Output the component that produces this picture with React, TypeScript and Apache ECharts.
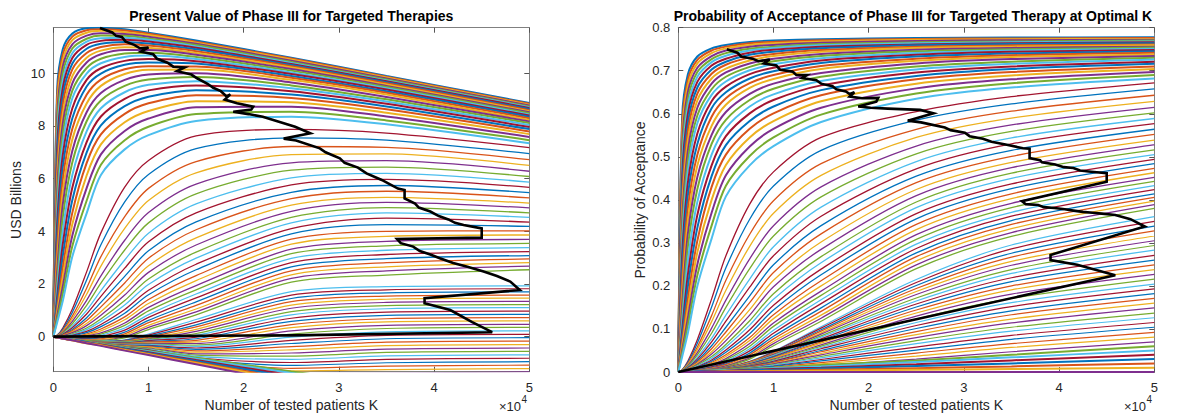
import { useEffect, useRef } from "react";
import * as echarts from "echarts";

// Sample positions of patients K (in units of 10^4) for every curve
const K_GRID = [0, 0.04, 0.1, 0.2, 0.35, 0.5, 0.75, 1, 1.5, 2.5, 3.5, 5];

// ---------- Left chart: present value (USD billions) ----------
const PV_BAND_A = [
  [0, 9.35, 10.92, 11.51, 11.71, 11.73, 11.67, 11.54, 11.24, 10.59, 9.9, 8.87],
  [0, 9.01, 10.71, 11.39, 11.63, 11.67, 11.62, 11.5, 11.2, 10.56, 9.87, 8.84],
  [0, 8.67, 10.5, 11.26, 11.54, 11.61, 11.56, 11.45, 11.16, 10.52, 9.84, 8.81],
  [0, 8.29, 10.26, 11.1, 11.43, 11.52, 11.49, 11.39, 11.12, 10.48, 9.8, 8.78],
  [0, 7.91, 10.01, 10.94, 11.31, 11.43, 11.42, 11.32, 11.07, 10.43, 9.76, 8.74],
  [0, 7.52, 9.73, 10.76, 11.2, 11.33, 11.35, 11.27, 11.02, 10.39, 9.73, 8.71],
  [0, 7.13, 9.45, 10.58, 11.08, 11.23, 11.27, 11.21, 10.97, 10.35, 9.7, 8.68],
  [0, 6.71, 9.14, 10.37, 10.93, 11.12, 11.19, 11.13, 10.91, 10.31, 9.66, 8.64],
  [0, 6.28, 8.82, 10.15, 10.77, 11.0, 11.1, 11.05, 10.84, 10.27, 9.62, 8.6],
  [0, 5.87, 8.46, 9.89, 10.59, 10.86, 10.99, 10.97, 10.77, 10.22, 9.57, 8.56],
  [0, 5.46, 8.1, 9.62, 10.41, 10.72, 10.88, 10.88, 10.7, 10.16, 9.52, 8.52],
  [0, 5.06, 7.72, 9.34, 10.2, 10.55, 10.75, 10.78, 10.62, 10.1, 9.48, 8.48],
  [0, 4.66, 7.34, 9.05, 9.99, 10.38, 10.62, 10.67, 10.54, 10.03, 9.43, 8.44],
  [0, 4.23, 6.9, 8.67, 9.75, 10.19, 10.47, 10.54, 10.46, 9.97, 9.38, 8.4],
  [0, 3.79, 6.45, 8.29, 9.5, 9.99, 10.32, 10.41, 10.37, 9.9, 9.32, 8.35],
  [0, 3.31, 5.98, 7.89, 9.18, 9.76, 10.15, 10.27, 10.26, 9.83, 9.26, 8.29],
  [0, 2.83, 5.5, 7.49, 8.85, 9.52, 9.97, 10.13, 10.14, 9.75, 9.19, 8.23],
  [0, 2.44, 5.02, 7.06, 8.52, 9.25, 9.75, 9.95, 10.0, 9.65, 9.1, 8.17],
  [0, 2.04, 4.54, 6.62, 8.18, 8.97, 9.52, 9.76, 9.86, 9.54, 9.01, 8.11],
  [0, 1.76, 4.03, 6.14, 7.79, 8.67, 9.28, 9.56, 9.7, 9.43, 8.93, 8.04],
  [0, 1.48, 3.51, 5.66, 7.39, 8.36, 9.03, 9.35, 9.54, 9.32, 8.84, 7.96],
  [0, 1.27, 3.07, 5.19, 6.99, 8.02, 8.75, 9.11, 9.36, 9.19, 8.74, 7.88],
  [0, 1.05, 2.63, 4.71, 6.59, 7.68, 8.46, 8.86, 9.17, 9.06, 8.63, 7.79],
  [0, 0.91, 2.28, 4.28, 6.12, 7.3, 8.14, 8.57, 8.94, 8.9, 8.5, 7.69],
  [0, 0.77, 1.92, 3.84, 5.64, 6.92, 7.81, 8.28, 8.71, 8.73, 8.36, 7.58],
  [0, 0.65, 1.64, 3.44, 5.16, 6.53, 7.46, 7.97, 8.45, 8.54, 8.21, 7.46],
  [0, 0.53, 1.36, 3.04, 4.68, 6.14, 7.11, 7.65, 8.19, 8.35, 8.06, 7.34],
];
const PV_BAND_B = [
  [0, 0.05, 0.33, 1.05, 2.46, 3.94, 5.68, 6.69, 7.62, 7.87, 7.73, 7.18],
  [0, 0.05, 0.28, 0.92, 2.15, 3.49, 5.12, 6.16, 7.14, 7.55, 7.46, 6.95],
  [0, 0.04, 0.23, 0.78, 1.84, 3.04, 4.56, 5.63, 6.65, 7.22, 7.19, 6.72],
  [0, 0.03, 0.2, 0.68, 1.61, 2.68, 4.11, 5.17, 6.22, 6.91, 6.94, 6.5],
  [0, 0.02, 0.17, 0.58, 1.38, 2.31, 3.66, 4.71, 5.79, 6.6, 6.68, 6.28],
  [0, 0.01, 0.14, 0.49, 1.19, 2.03, 3.29, 4.32, 5.42, 6.32, 6.44, 6.08],
  [0, 0.0, 0.1, 0.4, 1.0, 1.75, 2.91, 3.93, 5.04, 6.03, 6.2, 5.87],
  [0, 0.0, 0.09, 0.34, 0.86, 1.53, 2.6, 3.6, 4.7, 5.76, 5.97, 5.67],
  [0, 0.0, 0.07, 0.27, 0.72, 1.3, 2.29, 3.26, 4.36, 5.48, 5.74, 5.47],
  [0, -0.01, 0.06, 0.23, 0.61, 1.13, 2.04, 2.98, 4.06, 5.24, 5.52, 5.27],
  [0, -0.01, 0.04, 0.18, 0.5, 0.95, 1.78, 2.69, 3.75, 4.99, 5.29, 5.07],
  [0, -0.01, 0.03, 0.15, 0.42, 0.81, 1.58, 2.44, 3.48, 4.76, 5.1, 4.89],
  [0, -0.01, 0.01, 0.11, 0.33, 0.67, 1.37, 2.19, 3.21, 4.53, 4.9, 4.7],
  [0, -0.01, 0.0, 0.08, 0.27, 0.57, 1.2, 1.98, 2.98, 4.32, 4.7, 4.53],
  [0, -0.01, -0.01, 0.05, 0.2, 0.46, 1.03, 1.76, 2.75, 4.1, 4.5, 4.35],
  [0, -0.02, -0.02, 0.03, 0.15, 0.38, 0.89, 1.59, 2.54, 3.9, 4.25, 4.19],
  [0, -0.03, -0.02, 0.0, 0.1, 0.29, 0.75, 1.41, 2.32, 3.7, 4.0, 4.02],
  [0, -0.03, -0.03, -0.02, 0.07, 0.22, 0.64, 1.26, 2.13, 3.51, 3.81, 3.86],
  [0, -0.03, -0.04, -0.03, 0.03, 0.14, 0.52, 1.11, 1.94, 3.32, 3.62, 3.69],
  [0, -0.03, -0.04, -0.04, 0.0, 0.1, 0.43, 0.98, 1.78, 3.15, 3.45, 3.54],
  [0, -0.03, -0.04, -0.05, -0.04, 0.05, 0.33, 0.84, 1.62, 2.97, 3.28, 3.38],
  [0, -0.03, -0.05, -0.07, -0.07, 0.0, 0.25, 0.73, 1.47, 2.81, 3.12, 3.23],
  [0, -0.03, -0.05, -0.08, -0.09, -0.05, 0.17, 0.62, 1.32, 2.65, 2.96, 3.08],
  [0, -0.03, -0.05, -0.09, -0.11, -0.08, 0.11, 0.53, 1.19, 2.5, 2.81, 2.95],
  [0, -0.03, -0.05, -0.09, -0.12, -0.11, 0.05, 0.43, 1.05, 2.35, 2.65, 2.81],
  [0, -0.03, -0.05, -0.09, -0.14, -0.14, 0.0, 0.35, 0.94, 2.21, 2.5, 2.68],
  [0, -0.03, -0.05, -0.09, -0.15, -0.16, -0.05, 0.27, 0.83, 2.07, 2.34, 2.54],
];
const PV_BAND_C = [
  [0, -0.03, -0.06, -0.12, -0.19, -0.18, -0.12, 0.1, 0.65, 1.71, 1.9, 1.93],
  [0, -0.03, -0.06, -0.12, -0.19, -0.19, -0.14, 0.06, 0.55, 1.58, 1.78, 1.82],
  [0, -0.03, -0.06, -0.12, -0.19, -0.19, -0.15, 0.02, 0.45, 1.45, 1.66, 1.7],
  [0, -0.03, -0.06, -0.12, -0.19, -0.2, -0.17, -0.02, 0.37, 1.33, 1.54, 1.58],
  [0, -0.03, -0.06, -0.12, -0.19, -0.2, -0.18, -0.05, 0.28, 1.2, 1.42, 1.46],
  [0, -0.03, -0.06, -0.12, -0.19, -0.21, -0.19, -0.08, 0.2, 1.08, 1.3, 1.34],
  [0, -0.03, -0.06, -0.12, -0.19, -0.21, -0.2, -0.1, 0.12, 0.95, 1.18, 1.22],
  [0, -0.03, -0.06, -0.12, -0.19, -0.22, -0.22, -0.13, 0.05, 0.83, 1.06, 1.1],
  [0, -0.03, -0.06, -0.12, -0.19, -0.22, -0.23, -0.15, -0.02, 0.7, 0.93, 0.97],
  [0, -0.03, -0.06, -0.12, -0.19, -0.23, -0.24, -0.18, -0.08, 0.58, 0.81, 0.85],
  [0, -0.03, -0.06, -0.12, -0.19, -0.23, -0.25, -0.2, -0.14, 0.46, 0.68, 0.72],
  [0, -0.03, -0.06, -0.12, -0.19, -0.24, -0.27, -0.23, -0.2, 0.34, 0.56, 0.6],
  [0, -0.03, -0.06, -0.12, -0.19, -0.24, -0.28, -0.25, -0.26, 0.22, 0.43, 0.47],
  [0, -0.03, -0.06, -0.12, -0.2, -0.25, -0.29, -0.28, -0.32, 0.1, 0.31, 0.35],
  [0, -0.03, -0.06, -0.12, -0.2, -0.25, -0.3, -0.3, -0.37, -0.02, 0.18, 0.22],
  [0, -0.03, -0.06, -0.12, -0.2, -0.26, -0.32, -0.33, -0.43, -0.14, 0.05, 0.09],
  [0, -0.03, -0.06, -0.12, -0.2, -0.26, -0.33, -0.35, -0.48, -0.26, -0.08, -0.04],
  [0, -0.03, -0.06, -0.12, -0.2, -0.27, -0.34, -0.38, -0.54, -0.38, -0.21, -0.17],
  [0, -0.03, -0.06, -0.12, -0.2, -0.27, -0.35, -0.4, -0.59, -0.5, -0.34, -0.3],
  [0, -0.03, -0.06, -0.12, -0.2, -0.28, -0.37, -0.43, -0.65, -0.62, -0.47, -0.43],
  [0, -0.03, -0.06, -0.12, -0.2, -0.28, -0.38, -0.45, -0.7, -0.74, -0.6, -0.56],
  [0, -0.03, -0.06, -0.12, -0.21, -0.28, -0.39, -0.48, -0.75, -0.86, -0.73, -0.69],
  [0, -0.03, -0.06, -0.12, -0.21, -0.28, -0.4, -0.5, -0.8, -0.98, -0.86, -0.82],
  [0, -0.03, -0.06, -0.12, -0.21, -0.29, -0.41, -0.53, -0.85, -1.09, -0.99, -0.95],
  [0, -0.03, -0.06, -0.12, -0.21, -0.29, -0.42, -0.55, -0.89, -1.2, -1.12, -1.08],
  [0, -0.03, -0.06, -0.12, -0.21, -0.3, -0.44, -0.58, -0.93, -1.3, -1.25, -1.21],
  [0, -0.03, -0.06, -0.12, -0.21, -0.3, -0.45, -0.6, -0.97, -1.4, -1.38, -1.34],
];
const PV_BAND_D = [
  [0, -0.03, -0.05, -0.11, -0.2, -0.27, -0.41, -0.54, -0.8, -1.32, -1.81, -2.55],
  [0, -0.03, -0.07, -0.11, -0.2, -0.29, -0.43, -0.56, -0.84, -1.38, -1.91, -2.7],
  [0, -0.03, -0.07, -0.12, -0.21, -0.3, -0.45, -0.59, -0.89, -1.46, -2.02, -2.86],
  [0, -0.03, -0.07, -0.12, -0.21, -0.32, -0.46, -0.62, -0.92, -1.53, -2.13, -3.02],
  [0, -0.03, -0.07, -0.14, -0.23, -0.32, -0.49, -0.65, -0.97, -1.61, -2.24, -3.18],
  [0, -0.03, -0.07, -0.14, -0.25, -0.33, -0.51, -0.67, -1.0, -1.67, -2.34, -3.34],
  [0, -0.03, -0.07, -0.14, -0.25, -0.35, -0.53, -0.7, -1.05, -1.75, -2.45, -3.5],
];
// Optimal-K path on the left chart
const PV_OPT_K = [0.49, 0.62, 0.66, 0.72, 0.76, 0.85, 0.91, 1.0, 0.92, 1.05, 1.09, 1.2, 1.26, 1.38, 1.3, 1.45, 1.51, 1.62, 1.68, 1.76, 1.82, 1.86, 1.8, 1.93, 2.1, 2.08, 1.89, 2.05, 2.2, 2.54, 2.7, 2.42, 2.55, 2.8, 2.86, 3.01, 3.06, 3.2, 3.29, 3.45, 3.62, 3.69, 3.69, 3.8, 3.84, 3.96, 4.05, 4.15, 4.22, 4.31, 4.5, 4.5, 3.61, 3.65, 3.78, 3.85, 3.96, 4.06, 4.2, 4.35, 4.52, 4.66, 4.8, 4.9, 3.9, 3.9, 4.17, 4.4, 4.61, 2.5, 0];
const PV_OPT_VAL = [11.72, 11.55, 11.42, 11.38, 11.2, 11.08, 10.95, 10.98, 10.82, 10.72, 10.55, 10.4, 10.25, 10.22, 10.08, 9.95, 9.81, 9.6, 9.45, 9.32, 9.12, 9.2, 9.0, 8.86, 8.73, 8.62, 8.54, 8.45, 8.35, 7.97, 7.72, 7.52, 7.45, 7.15, 7.0, 6.77, 6.6, 6.42, 6.2, 5.95, 5.62, 5.57, 5.25, 5.05, 4.9, 4.75, 4.58, 4.45, 4.32, 4.24, 4.11, 3.76, 3.71, 3.55, 3.42, 3.25, 3.12, 2.98, 2.8, 2.65, 2.47, 2.3, 2.09, 1.77, 1.46, 1.27, 1.01, 0.55, 0.17, 0.05, 0];

// ---------- Right chart: probability of acceptance ----------
const PA_BAND_A = [
  [0, 0.59, 0.691, 0.733, 0.752, 0.76, 0.767, 0.77, 0.773, 0.776, 0.777, 0.778],
  [0, 0.569, 0.678, 0.725, 0.747, 0.756, 0.764, 0.767, 0.771, 0.774, 0.775, 0.776],
  [0, 0.547, 0.665, 0.717, 0.741, 0.752, 0.76, 0.764, 0.768, 0.772, 0.773, 0.774],
  [0, 0.523, 0.65, 0.707, 0.734, 0.747, 0.756, 0.76, 0.765, 0.769, 0.771, 0.772],
  [0, 0.499, 0.634, 0.697, 0.727, 0.741, 0.751, 0.756, 0.762, 0.766, 0.768, 0.77],
  [0, 0.475, 0.617, 0.686, 0.72, 0.735, 0.747, 0.753, 0.759, 0.764, 0.766, 0.768],
  [0, 0.45, 0.599, 0.674, 0.712, 0.728, 0.742, 0.749, 0.756, 0.761, 0.764, 0.766],
  [0, 0.424, 0.579, 0.661, 0.703, 0.721, 0.737, 0.744, 0.752, 0.759, 0.762, 0.764],
  [0, 0.397, 0.559, 0.647, 0.693, 0.714, 0.731, 0.739, 0.748, 0.756, 0.759, 0.761],
  [0, 0.371, 0.537, 0.631, 0.682, 0.705, 0.724, 0.734, 0.744, 0.753, 0.756, 0.759],
  [0, 0.345, 0.514, 0.614, 0.67, 0.696, 0.717, 0.728, 0.739, 0.749, 0.753, 0.756],
  [0, 0.32, 0.49, 0.596, 0.657, 0.686, 0.709, 0.722, 0.734, 0.745, 0.75, 0.754],
  [0, 0.295, 0.466, 0.578, 0.644, 0.675, 0.701, 0.715, 0.729, 0.741, 0.747, 0.751],
  [0, 0.268, 0.438, 0.554, 0.629, 0.663, 0.692, 0.707, 0.724, 0.737, 0.744, 0.748],
  [0, 0.24, 0.41, 0.53, 0.613, 0.65, 0.682, 0.699, 0.718, 0.733, 0.74, 0.745],
  [0, 0.21, 0.38, 0.505, 0.593, 0.636, 0.671, 0.69, 0.711, 0.728, 0.736, 0.742],
  [0, 0.18, 0.35, 0.48, 0.572, 0.621, 0.66, 0.681, 0.704, 0.723, 0.732, 0.738],
  [0, 0.155, 0.32, 0.453, 0.551, 0.604, 0.646, 0.67, 0.695, 0.717, 0.727, 0.734],
  [0, 0.13, 0.29, 0.425, 0.53, 0.586, 0.632, 0.658, 0.686, 0.71, 0.721, 0.73],
  [0, 0.113, 0.258, 0.395, 0.505, 0.567, 0.617, 0.645, 0.676, 0.703, 0.716, 0.726],
  [0, 0.095, 0.225, 0.365, 0.48, 0.548, 0.601, 0.632, 0.666, 0.696, 0.71, 0.721],
  [0, 0.082, 0.198, 0.335, 0.455, 0.527, 0.583, 0.617, 0.655, 0.688, 0.704, 0.716],
  [0, 0.068, 0.17, 0.305, 0.43, 0.505, 0.565, 0.601, 0.643, 0.68, 0.697, 0.71],
  [0, 0.059, 0.148, 0.278, 0.4, 0.481, 0.545, 0.583, 0.629, 0.67, 0.689, 0.704],
  [0, 0.05, 0.125, 0.25, 0.37, 0.457, 0.524, 0.565, 0.614, 0.659, 0.68, 0.697],
  [0, 0.043, 0.108, 0.225, 0.34, 0.433, 0.502, 0.545, 0.598, 0.647, 0.671, 0.69],
  [0, 0.035, 0.09, 0.2, 0.31, 0.408, 0.48, 0.525, 0.581, 0.635, 0.661, 0.682],
];
const PA_BAND_B = [
  [0, 0.005, 0.025, 0.075, 0.17, 0.27, 0.39, 0.465, 0.545, 0.605, 0.64, 0.672],
  [0, 0.005, 0.022, 0.067, 0.151, 0.242, 0.355, 0.432, 0.515, 0.585, 0.623, 0.658],
  [0, 0.004, 0.019, 0.058, 0.131, 0.213, 0.32, 0.398, 0.484, 0.564, 0.606, 0.643],
  [0, 0.004, 0.017, 0.052, 0.117, 0.19, 0.292, 0.369, 0.457, 0.545, 0.59, 0.629],
  [0, 0.003, 0.015, 0.045, 0.102, 0.167, 0.263, 0.34, 0.43, 0.525, 0.574, 0.615],
  [0, 0.003, 0.013, 0.04, 0.09, 0.15, 0.24, 0.316, 0.407, 0.507, 0.559, 0.602],
  [0, 0.002, 0.011, 0.034, 0.078, 0.132, 0.216, 0.291, 0.383, 0.489, 0.544, 0.589],
  [0, 0.002, 0.01, 0.03, 0.07, 0.118, 0.197, 0.27, 0.362, 0.472, 0.53, 0.577],
  [0, 0.002, 0.009, 0.026, 0.061, 0.104, 0.177, 0.249, 0.34, 0.455, 0.515, 0.564],
  [0, 0.002, 0.008, 0.023, 0.054, 0.093, 0.161, 0.231, 0.321, 0.44, 0.501, 0.552],
  [0, 0.001, 0.007, 0.02, 0.047, 0.082, 0.145, 0.213, 0.302, 0.424, 0.487, 0.539],
  [0, 0.001, 0.006, 0.018, 0.042, 0.073, 0.132, 0.198, 0.285, 0.41, 0.475, 0.528],
  [0, 0.001, 0.005, 0.016, 0.036, 0.064, 0.119, 0.182, 0.268, 0.395, 0.462, 0.516],
  [0, 0.001, 0.005, 0.014, 0.032, 0.058, 0.109, 0.169, 0.254, 0.382, 0.45, 0.505],
  [0, 0.001, 0.004, 0.012, 0.028, 0.051, 0.098, 0.155, 0.239, 0.368, 0.437, 0.494],
  [0, 0.001, 0.004, 0.011, 0.025, 0.046, 0.089, 0.144, 0.226, 0.356, 0.426, 0.484],
  [0, 0, 0.003, 0.009, 0.022, 0.04, 0.08, 0.133, 0.212, 0.343, 0.414, 0.473],
  [0, 0, 0.003, 0.008, 0.02, 0.036, 0.073, 0.124, 0.2, 0.331, 0.403, 0.463],
  [0, 0, 0.002, 0.007, 0.017, 0.031, 0.066, 0.114, 0.188, 0.319, 0.392, 0.452],
  [0, 0, 0.002, 0.007, 0.015, 0.028, 0.06, 0.106, 0.178, 0.308, 0.382, 0.443],
  [0, 0, 0.002, 0.006, 0.013, 0.025, 0.054, 0.097, 0.168, 0.297, 0.371, 0.433],
  [0, 0, 0.002, 0.005, 0.012, 0.022, 0.049, 0.09, 0.159, 0.287, 0.362, 0.424],
  [0, 0, 0.001, 0.004, 0.01, 0.019, 0.044, 0.083, 0.149, 0.277, 0.352, 0.414],
  [0, 0, 0.001, 0.004, 0.009, 0.017, 0.04, 0.077, 0.141, 0.268, 0.343, 0.406],
  [0, 0, 0.001, 0.003, 0.008, 0.015, 0.036, 0.071, 0.132, 0.258, 0.333, 0.397],
  [0, 0, 0.001, 0.003, 0.007, 0.014, 0.033, 0.066, 0.125, 0.249, 0.324, 0.389],
  [0, 0, 0.001, 0.003, 0.006, 0.012, 0.03, 0.061, 0.118, 0.24, 0.315, 0.38],
];
const PA_BAND_C = [
  [0, 0, 0.001, 0.002, 0.005, 0.01, 0.025, 0.048, 0.105, 0.215, 0.295, 0.361],
  [0, 0, 0.001, 0.002, 0.005, 0.01, 0.024, 0.047, 0.102, 0.208, 0.286, 0.35],
  [0, 0, 0.001, 0.002, 0.005, 0.009, 0.023, 0.045, 0.098, 0.201, 0.276, 0.339],
  [0, 0, 0.001, 0.002, 0.005, 0.009, 0.023, 0.044, 0.095, 0.194, 0.267, 0.328],
  [0, 0, 0.001, 0.002, 0.005, 0.009, 0.022, 0.042, 0.091, 0.187, 0.257, 0.316],
  [0, 0, 0.001, 0.002, 0.005, 0.009, 0.021, 0.041, 0.088, 0.18, 0.248, 0.305],
  [0, 0, 0.001, 0.002, 0.004, 0.008, 0.02, 0.039, 0.084, 0.172, 0.238, 0.294],
  [0, 0, 0.001, 0.002, 0.004, 0.008, 0.02, 0.038, 0.081, 0.165, 0.229, 0.283],
  [0, 0, 0.001, 0.002, 0.004, 0.008, 0.019, 0.036, 0.077, 0.158, 0.219, 0.271],
  [0, 0, 0.001, 0.002, 0.004, 0.008, 0.018, 0.035, 0.074, 0.151, 0.21, 0.26],
  [0, 0, 0.001, 0.002, 0.004, 0.007, 0.017, 0.033, 0.07, 0.144, 0.2, 0.249],
  [0, 0, 0.001, 0.002, 0.004, 0.007, 0.017, 0.032, 0.067, 0.137, 0.191, 0.238],
  [0, 0, 0.001, 0.001, 0.004, 0.007, 0.016, 0.03, 0.063, 0.13, 0.181, 0.227],
  [0, 0, 0.001, 0.001, 0.004, 0.007, 0.015, 0.028, 0.06, 0.123, 0.171, 0.216],
  [0, 0, 0, 0.001, 0.003, 0.006, 0.014, 0.026, 0.057, 0.115, 0.161, 0.204],
  [0, 0, 0, 0.001, 0.003, 0.006, 0.014, 0.025, 0.054, 0.108, 0.152, 0.193],
  [0, 0, 0, 0.001, 0.003, 0.006, 0.013, 0.023, 0.05, 0.101, 0.142, 0.182],
  [0, 0, 0, 0.001, 0.003, 0.006, 0.012, 0.022, 0.047, 0.094, 0.133, 0.171],
  [0, 0, 0, 0.001, 0.003, 0.005, 0.011, 0.02, 0.043, 0.087, 0.123, 0.16],
  [0, 0, 0, 0.001, 0.003, 0.005, 0.011, 0.019, 0.04, 0.08, 0.114, 0.149],
  [0, 0, 0, 0.001, 0.003, 0.005, 0.01, 0.017, 0.036, 0.073, 0.104, 0.137],
  [0, 0, 0, 0.001, 0.003, 0.005, 0.009, 0.016, 0.033, 0.066, 0.095, 0.126],
  [0, 0, 0, 0.001, 0.002, 0.004, 0.008, 0.014, 0.029, 0.058, 0.085, 0.115],
  [0, 0, 0, 0.001, 0.002, 0.004, 0.008, 0.013, 0.026, 0.051, 0.076, 0.104],
  [0, 0, 0, 0.001, 0.002, 0.004, 0.007, 0.011, 0.022, 0.044, 0.066, 0.092],
  [0, 0, 0, 0.001, 0.002, 0.004, 0.006, 0.01, 0.019, 0.037, 0.057, 0.081],
  [0, 0, 0, 0.001, 0.002, 0.003, 0.005, 0.008, 0.015, 0.03, 0.047, 0.07],
];
const PA_BAND_D = [
  [0, 0, 0.001, 0.002, 0.003, 0.005, 0.007, 0.01, 0.016, 0.027, 0.04, 0.06],
  [0, 0, 0, 0.002, 0.003, 0.004, 0.006, 0.009, 0.013, 0.023, 0.034, 0.05],
  [0, 0, 0, 0.001, 0.002, 0.003, 0.005, 0.007, 0.01, 0.018, 0.027, 0.04],
  [0, 0, 0, 0.001, 0.002, 0.002, 0.004, 0.005, 0.008, 0.014, 0.02, 0.03],
  [0, 0, 0, 0, 0.001, 0.002, 0.002, 0.003, 0.005, 0.009, 0.013, 0.02],
  [0, 0, 0, 0, 0, 0.001, 0.001, 0.002, 0.003, 0.005, 0.007, 0.01],
  [0, 0, 0, 0, 0, 0, 0, 0, 0, 0, 0, 0],
];
// Optimal-K path on the right chart
const PA_OPT_K = [0.51, 0.62, 0.66, 0.78, 0.84, 0.96, 0.9, 1.03, 1.07, 1.2, 1.24, 1.35, 1.3, 1.45, 1.5, 1.62, 1.66, 1.76, 1.8, 1.85, 1.8, 1.93, 2.1, 2.08, 1.89, 2.02, 2.2, 2.54, 2.68, 2.41, 2.55, 2.8, 2.86, 3.01, 3.06, 3.2, 3.29, 3.45, 3.62, 3.69, 3.69, 3.8, 3.82, 3.96, 4.05, 4.15, 4.22, 4.31, 4.5, 4.5, 3.61, 3.65, 3.78, 3.84, 3.95, 4.06, 4.15, 4.25, 4.35, 4.45, 4.59, 4.75, 4.9, 3.91, 3.91, 4.19, 4.59, 0];
const PA_OPT_VAL = [0.75, 0.742, 0.733, 0.728, 0.722, 0.726, 0.717, 0.712, 0.702, 0.698, 0.69, 0.69, 0.683, 0.678, 0.67, 0.664, 0.657, 0.652, 0.646, 0.65, 0.64, 0.636, 0.637, 0.628, 0.617, 0.614, 0.612, 0.609, 0.601, 0.584, 0.58, 0.568, 0.562, 0.556, 0.548, 0.542, 0.535, 0.528, 0.52, 0.519, 0.497, 0.492, 0.487, 0.482, 0.476, 0.474, 0.468, 0.466, 0.462, 0.442, 0.397, 0.39, 0.388, 0.383, 0.381, 0.378, 0.375, 0.372, 0.37, 0.368, 0.365, 0.355, 0.338, 0.272, 0.26, 0.249, 0.225, 0];

const PV_TICKS = [0, 2, 4, 6, 8, 10];
const COLORS = ["#0072BD", "#D95319", "#EDB120", "#7E2F8E", "#77AC30", "#4DBEEE", "#A2142F"];
const FONT = '"Liberation Sans", Arial, Helvetica, sans-serif';

type Band = { rows: number[][]; width: number };

function curveSeries(bands: Band[], axisIndex: number) {
  const out: any[] = [];
  let idx = 0;
  bands.forEach((band) => {
    band.rows.forEach((row) => {
      out.push({
        type: "line",
        xAxisIndex: axisIndex,
        yAxisIndex: axisIndex,
        data: row.map((v, k) => [K_GRID[k], v]),
        showSymbol: false,
        symbol: "none",
        smooth: 0.3,
        silent: true,
        lineStyle: { width: band.width, color: COLORS[idx % COLORS.length] },
        z: 2,
      });
      idx++;
    });
  });
  return out;
}

function optSeries(ks: number[], vals: number[], axisIndex: number) {
  return {
    type: "line",
    xAxisIndex: axisIndex,
    yAxisIndex: axisIndex,
    data: ks.map((k, i) => [k, vals[i]]),
    showSymbol: false,
    symbol: "none",
    silent: true,
    lineStyle: { width: 2.6, color: "#000000", join: "miter" },
    z: 5,
  };
}

const axisLineStyle = { color: "#808080", width: 1 };

function xAxes(grid: number) {
  const base = {
    gridIndex: grid,
    type: "value",
    min: 0,
    max: 5,
    interval: 1,
    splitLine: { show: false },
    axisLine: { show: true, onZero: false, lineStyle: axisLineStyle },
    axisTick: { show: true, inside: true, length: 5, lineStyle: { color: "#555" } },
  };
  return [
    { ...base, position: "bottom", axisLabel: { margin: 9, fontSize: 13, color: "#262626", fontFamily: FONT } },
    { ...base, position: "top", axisLabel: { show: false } },
  ];
}

export default function App() {
  const ref = useRef<HTMLDivElement>(null);
  useEffect(() => {
    if (!ref.current) return;
    const chart = echarts.init(ref.current, undefined, { renderer: "svg" });
    const yLeftBase = {
      gridIndex: 0,
      type: "value",
      min: -1.33,
      max: 11.73,
      splitLine: { show: false },
      axisLine: { show: true, onZero: false, lineStyle: axisLineStyle },
    };
    const yRightBase = {
      gridIndex: 1,
      type: "value",
      min: 0,
      max: 0.8,
      interval: 0.1,
      splitLine: { show: false },
      axisLine: { show: true, onZero: false, lineStyle: axisLineStyle },
      axisTick: { show: true, inside: true, length: 5, lineStyle: { color: "#555" } },
    };
    const option: any = {
      animation: false,
      backgroundColor: "#ffffff",
      grid: [
        { left: 53.3, top: 27.7, width: 476, height: 344 },
        { left: 678.3, top: 27.7, width: 476, height: 344.3 },
      ],
      xAxis: [...xAxes(0), ...xAxes(1)],
      yAxis: [
        {
          ...yLeftBase,
          position: "left",
          axisTick: { show: true, inside: true, length: 5, customValues: PV_TICKS, lineStyle: { color: "#555" } },
          axisLabel: { customValues: PV_TICKS, margin: 8, fontSize: 13, color: "#262626", fontFamily: FONT },
        },
        {
          ...yLeftBase,
          position: "right",
          axisTick: { show: true, inside: true, length: 5, customValues: PV_TICKS, lineStyle: { color: "#555" } },
          axisLabel: { show: false },
        },
        {
          ...yRightBase,
          position: "left",
          axisLabel: {
            margin: 8,
            fontSize: 13,
            color: "#262626",
            fontFamily: FONT,
            formatter: (v: number) => String(+v.toFixed(1)),
          },
        },
        { ...yRightBase, position: "right", axisLabel: { show: false } },
      ],
      graphic: [
        {
          type: "text",
          x: 291.3,
          y: 16,
          style: { text: "Present Value of Phase III for Targeted Therapies", textAlign: "center", textVerticalAlign: "middle", font: `bold 14px ${FONT}`, fill: "#000" },
        },
        {
          type: "text",
          x: 913,
          y: 16,
          style: { text: "Probability of Acceptance of Phase III for Targeted Therapy at Optimal K", textAlign: "center", textVerticalAlign: "middle", font: `bold 14px ${FONT}`, fill: "#000" },
        },
        {
          type: "text",
          x: 291.3,
          y: 405,
          style: { text: "Number of tested patients K", textAlign: "center", textVerticalAlign: "middle", font: `14px ${FONT}`, fill: "#262626" },
        },
        {
          type: "text",
          x: 916.3,
          y: 405,
          style: { text: "Number of tested patients K", textAlign: "center", textVerticalAlign: "middle", font: `14px ${FONT}`, fill: "#262626" },
        },
        {
          type: "text",
          x: 16,
          y: 200,
          rotation: Math.PI / 2,
          style: { text: "USD Billions", textAlign: "center", textVerticalAlign: "middle", font: `14px ${FONT}`, fill: "#262626" },
        },
        {
          type: "text",
          x: 640,
          y: 200,
          rotation: Math.PI / 2,
          style: { text: "Probability of Acceptance", textAlign: "center", textVerticalAlign: "middle", font: `14px ${FONT}`, fill: "#262626" },
        },
        { type: "text", x: 521, y: 406, style: { text: "×10", textAlign: "right", textVerticalAlign: "middle", font: `13px ${FONT}`, fill: "#262626" } },
        { type: "text", x: 521.5, y: 399, style: { text: "4", textAlign: "left", textVerticalAlign: "middle", font: `10px ${FONT}`, fill: "#262626" } },
        { type: "text", x: 1146, y: 406, style: { text: "×10", textAlign: "right", textVerticalAlign: "middle", font: `13px ${FONT}`, fill: "#262626" } },
        { type: "text", x: 1146.5, y: 399, style: { text: "4", textAlign: "left", textVerticalAlign: "middle", font: `10px ${FONT}`, fill: "#262626" } },
      ],
      series: [
        ...curveSeries(
          [
            { rows: PV_BAND_A, width: 2 },
            { rows: PV_BAND_B, width: 1.3 },
            { rows: PV_BAND_C, width: 1.2 },
            { rows: PV_BAND_D, width: 2 },
          ],
          0
        ),
        optSeries(PV_OPT_K, PV_OPT_VAL, 0),
        ...curveSeries(
          [
            { rows: PA_BAND_A, width: 2 },
            { rows: PA_BAND_B, width: 1.3 },
            { rows: PA_BAND_C, width: 1.2 },
            { rows: PA_BAND_D, width: 2 },
          ],
          2
        ),
        optSeries(PA_OPT_K, PA_OPT_VAL, 2),
      ],
    };
    chart.setOption(option);
    return () => chart.dispose();
  }, []);
  return (
    <div
      ref={ref}
      style={{ position: "fixed", left: 0, top: 0, width: 1193, height: 415, background: "#fff" }}
    />
  );
}
